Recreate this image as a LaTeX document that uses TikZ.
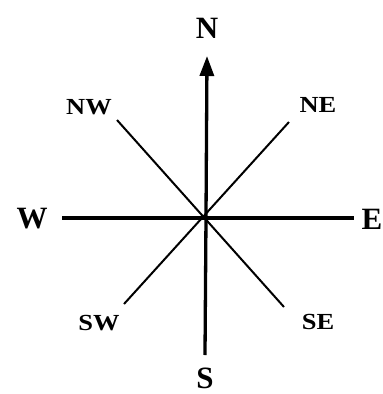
\documentclass[tikz,border=0pt]{standalone}
\usepackage{fontspec}
\setmainfont{Liberation Serif}
\usetikzlibrary{arrows.meta}
\begin{document}
\begin{tikzpicture}[x=1pt,y=-1pt,
  main/.style={line width=3.3pt},
  diag/.style={line width=2pt},
  card/.style={font=\fontsize{31}{31}\selectfont\bfseries, inner sep=0pt},
  inter/.style={font=\fontsize{23}{23}\selectfont\bfseries, inner sep=0pt, xscale=1.15}]
\useasboundingbox (0,0) rectangle (383,394);
\coordinate (O) at (206,217);
\node[card] (N) at (207,28) {N};
\node[card] (S) at (205,378) {S};
\node[card] (W) at (32,219) {W};
\node[card] (E) at (372,219) {E};
\node[inter] (NW) at (89,107) {NW};
\node[inter] (NE) at (318,105) {NE};
\node[inter] (SW) at (99,323) {SW};
\node[inter] (SE) at (318,322) {SE};
\coordinate (tN) at (207,56);
\coordinate (tS) at (205,355);
\coordinate (tW) at (62,218);
\coordinate (tE) at (354,218);
\coordinate (tNW) at (117,120);
\coordinate (tNE) at (289,122);
\coordinate (tSW) at (124,304);
\coordinate (tSE) at (284,307);
\draw[main,-{Triangle[length=20pt,width=14pt]}] (O) -- (tN);
\draw[main] (O) -- (tS);
\draw[main] (tW) -- (tE);
\draw[diag] (tNW) -- (tSE);
\draw[diag] (tNE) -- (tSW);
\end{tikzpicture}
\end{document}
